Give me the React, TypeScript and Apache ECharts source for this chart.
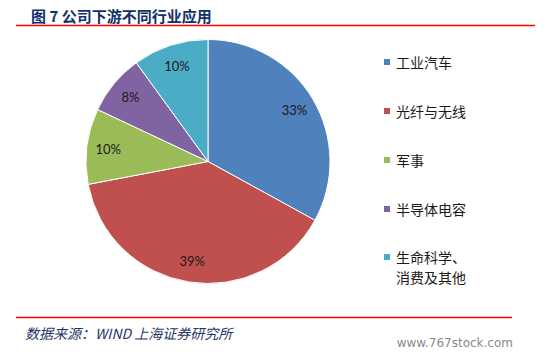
import React, { useEffect, useRef } from "react";
import * as echarts from "echarts";

const categories = ["工业汽车", "光纤与无线", "军事", "半导体电容", "生命科学、\n消费及其他"];
const shares = [33, 39, 10, 8, 10];
const colors = ["#4F81BD", "#C0504D", "#9BBB59", "#8064A2", "#4BACC6"];
const titleText = "图 7 公司下游不同行业应用";
const sourceText = "数据来源：WIND 上海证券研究所";
const watermark = "www.767stock.com";

export default function App() {
  const ref = useRef<HTMLDivElement>(null);
  useEffect(() => {
    if (!ref.current) return;
    const chart = echarts.init(ref.current, undefined, { renderer: "svg" });
    const pieData = categories.map((name, i) => ({
      name,
      value: shares[i],
      itemStyle: { color: colors[i] },
    }));
    const labelData = categories.map((name, i) => ({ name, value: shares[i] }));
    const legendText = {
      fontFamily: "Noto Sans CJK SC",
      fontSize: 14,
      color: "#1a1a1a",
      lineHeight: 20,
    };
    const legendItems = categories.map((name, i) => ({
      name,
      itemStyle: { color: colors[i] },
    }));
    const last = categories.length - 1;
    chart.setOption({
      animation: false,
      backgroundColor: "#ffffff",
      title: {
        text: titleText,
        left: 26,
        top: 3,
        textStyle: {
          fontFamily: "Noto Sans CJK SC",
          fontSize: 15,
          fontWeight: "bold",
          color: "#12306a",
        },
      },
      legend: [
        {
          orient: "vertical",
          left: 382,
          top: 52,
          padding: 0,
          itemWidth: 8,
          itemHeight: 8,
          itemGap: 29,
          icon: "rect",
          textStyle: legendText,
          data: legendItems.slice(0, last),
        },
        {
          orient: "vertical",
          left: 382,
          top: 227,
          padding: 0,
          itemWidth: 8,
          itemHeight: 8,
          icon: "rect",
          formatter: (name: string) => "\n" + name,
          textStyle: legendText,
          data: legendItems.slice(last),
        },
      ],
      series: [
        {
          type: "pie",
          center: [208, 161.5],
          radius: [0, 122],
          startAngle: 90,
          clockwise: true,
          data: pieData,
          label: { show: false },
          labelLine: { show: false },
          itemStyle: { borderColor: "#ffffff", borderWidth: 1 },
          emphasis: { disabled: true },
        },
        {
          type: "pie",
          center: [208, 161.5],
          radius: [73, 122],
          startAngle: 90,
          clockwise: true,
          silent: true,
          data: labelData,
          itemStyle: { color: "rgba(0,0,0,0)", borderWidth: 0 },
          label: {
            show: true,
            position: "inside",
            formatter: "{c}%",
            fontFamily: "Lato",
            fontSize: 13,
            color: "#1a1a1a",
          },
          labelLine: { show: false },
          emphasis: { disabled: true },
        },
      ],
      graphic: [
        {
          type: "line",
          shape: { x1: 16, y1: 25.5, x2: 535, y2: 25.5 },
          style: { stroke: "#ff0000", lineWidth: 1.5 },
        },
        {
          type: "line",
          shape: { x1: 16, y1: 317.5, x2: 512, y2: 317.5 },
          style: { stroke: "#ff0000", lineWidth: 1.5 },
        },
        {
          type: "text",
          x: 25,
          y: 333,
          style: {
            text: sourceText,
            fontFamily: "Noto Sans CJK SC",
            fontSize: 14,
            fontStyle: "italic",
            fill: "#1F3864",
            verticalAlign: "middle",
          },
        },
        {
          type: "text",
          x: 513,
          y: 343,
          style: {
            text: watermark,
            fontFamily: "DejaVu Sans",
            fontSize: 12,
            fill: "#8a8a8a",
            align: "right",
            verticalAlign: "middle",
          },
        },
      ],
    });
    return () => chart.dispose();
  }, []);
  return (
    <div
      ref={ref}
      style={{ position: "fixed", left: 0, top: 0, width: 547, height: 355 }}
    />
  );
}
